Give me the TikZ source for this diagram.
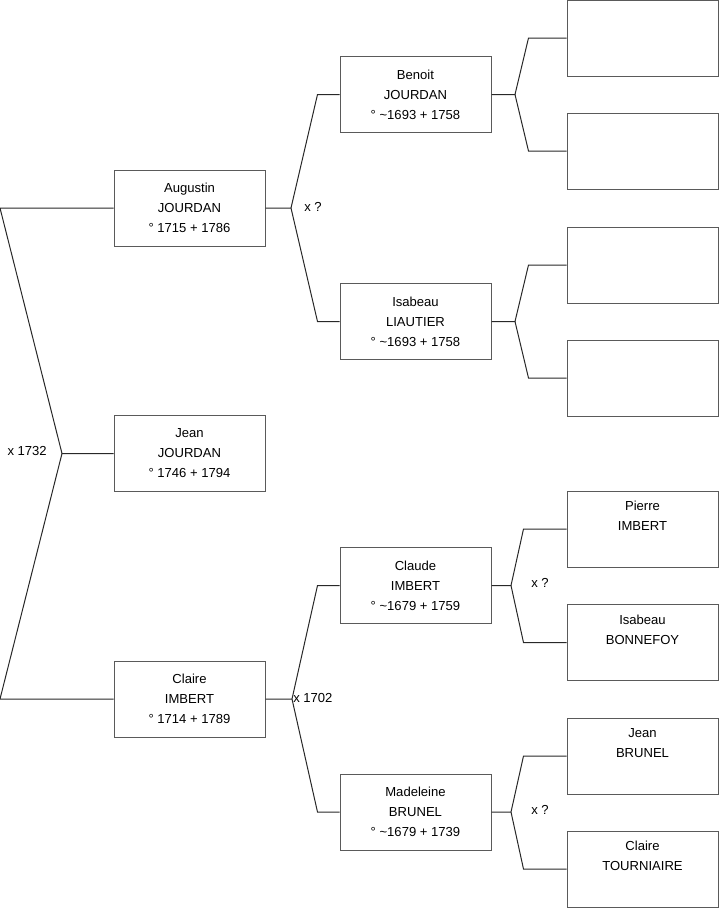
\documentclass[tikz,border=0pt]{standalone}
\usepackage{fontspec}
\setmainfont{Liberation Sans}
\usepackage{tikz}
\usetikzlibrary{positioning, calc}
\definecolor{boxline}{RGB}{90, 90, 90}
\definecolor{linkline}{RGB}{40, 40, 40}

\begin{document}
\begin{tikzpicture}[
    x=0.75pt, y=-0.75pt,
    person/.style={rectangle, draw=boxline, line width=0.75pt, minimum width=113.25pt, minimum height=57pt, align=center, font=\fontsize{9.8}{15}\selectfont, inner sep=0pt},
    link/.style={draw=linkline, line width=0.75pt},
    wedding/.style={font=\fontsize{9.8}{12}\selectfont, inner sep=0pt}
]
\useasboundingbox (0,0) rectangle (719,908);

% generation 1
\node[person] (augustin) at (189.5,208) {Augustin\\JOURDAN\\° 1715 + 1786};
\node[person] (jean) at (189.5,453.5) {Jean\\JOURDAN\\° 1746 + 1794};
\node[person] (claire) at (189.5,699) {Claire\\IMBERT\\° 1714 + 1789};

% generation 2
\node[person] (benoit) at (415.5,94.5) {Benoit\\JOURDAN\\° \textasciitilde1693 + 1758};
\node[person] (isabeau) at (415.5,321.5) {Isabeau\\LIAUTIER\\° \textasciitilde1693 + 1758};
\node[person] (claude) at (415.5,585.5) {Claude\\IMBERT\\° \textasciitilde1679 + 1759};
\node[person] (madeleine) at (415.5,812) {Madeleine\\BRUNEL\\° \textasciitilde1679 + 1739};

% generation 3 (no dates: third line left empty)
\node[person] (b1) at (642.5,38) {};
\node[person] (b2) at (642.5,151) {};
\node[person] (i1) at (642.5,265) {};
\node[person] (i2) at (642.5,378) {};
\node[person] (pierre) at (642.5,529) {Pierre\\IMBERT\\\strut};
\node[person] (isabeaub) at (642.5,642.5) {Isabeau\\BONNEFOY\\\strut};
\node[person] (jeanb) at (642.5,756) {Jean\\BRUNEL\\\strut};
\node[person] (clairet) at (642.5,869) {Claire\\TOURNIAIRE\\\strut};

% joints
\coordinate (j0) at (62,453.5);
\coordinate (j1) at (291,208);
\coordinate (j2) at (292,699);
\coordinate (j3) at (515,94.5);
\coordinate (j4) at (515,321.5);
\coordinate (j5) at (511,585.5);
\coordinate (j6) at (511,812);

% marriages
\node[wedding, anchor=east] (m0) at (47,451) {x 1732};
\node[wedding, anchor=west] (m1) at (304,207) {x ?};
\node[wedding, anchor=west] (m2) at (293,698) {x 1702};
\node[wedding, anchor=west] (m3) at (531,583) {x ?};
\node[wedding, anchor=west] (m4) at (531,810) {x ?};

\draw[link] (augustin.west) -- ($(augustin.west)+(-113.5,0)$) -- (j0) -- (jean.west);
\draw[link] (claire.west) -- ($(claire.west)+(-113.5,0)$) -- (j0);

\draw[link] (augustin.east) -- (j1) -- ($(benoit.west)+(-22,0)$) -- (benoit.west);
\draw[link] (j1) -- ($(isabeau.west)+(-22,0)$) -- (isabeau.west);
\draw[link] (claire.east) -- (j2) -- ($(claude.west)+(-22,0)$) -- (claude.west);
\draw[link] (j2) -- ($(madeleine.west)+(-22,0)$) -- (madeleine.west);

\draw[link] (benoit.east) -- (j3) -- ($(b1.west)+(-38,0)$) -- (b1.west);
\draw[link] (j3) -- ($(b2.west)+(-38,0)$) -- (b2.west);
\draw[link] (isabeau.east) -- (j4) -- ($(i1.west)+(-38,0)$) -- (i1.west);
\draw[link] (j4) -- ($(i2.west)+(-38,0)$) -- (i2.west);
\draw[link] (claude.east) -- (j5) -- ($(pierre.west)+(-43,0)$) -- (pierre.west);
\draw[link] (j5) -- ($(isabeaub.west)+(-43,0)$) -- (isabeaub.west);
\draw[link] (madeleine.east) -- (j6) -- ($(jeanb.west)+(-43,0)$) -- (jeanb.west);
\draw[link] (j6) -- ($(clairet.west)+(-43,0)$) -- (clairet.west);

\end{tikzpicture}
\end{document}
